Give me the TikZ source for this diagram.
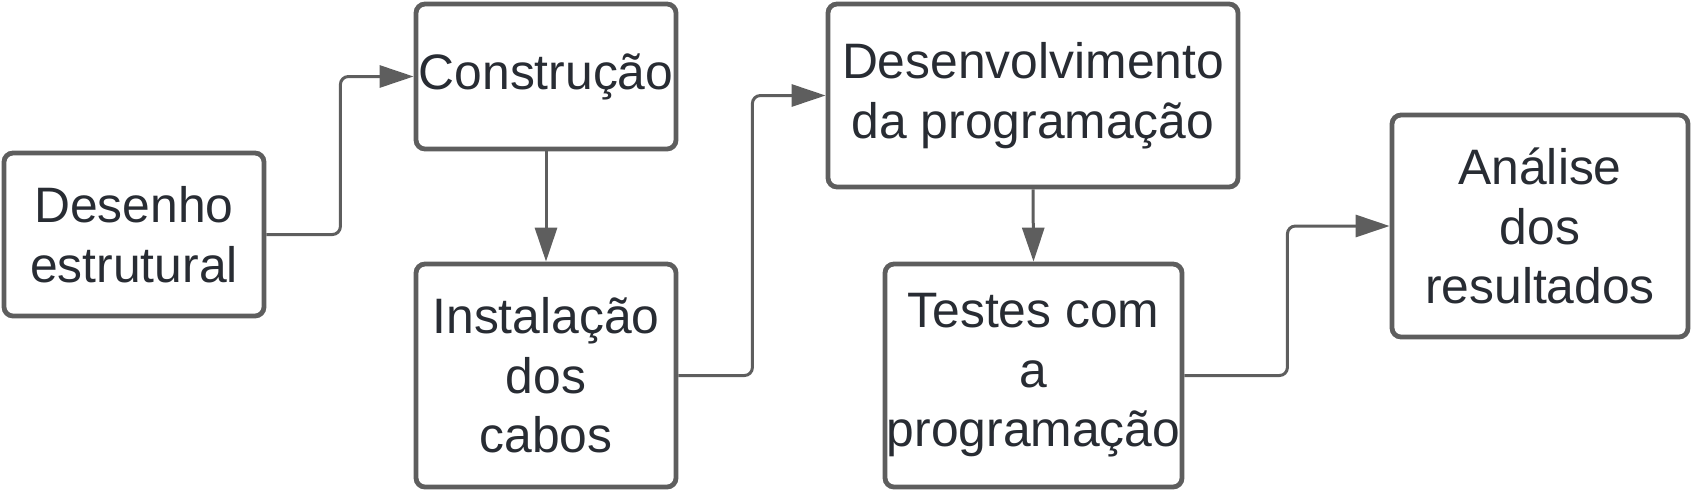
\documentclass[tikz,border=0pt]{standalone}
\usepackage{fontspec}
\setmainfont{Liberation Sans}
\usepackage{tikz}
\usetikzlibrary{arrows.meta}
\definecolor{linegray}{HTML}{5E5E5E}
\definecolor{textdark}{HTML}{282C33}
\tikzstyle{stepbox}=[draw=linegray,line width=4.8pt,rounded corners=9pt,fill=white,align=center,inner sep=0pt,text=textdark,font=\fontsize{49.8}{59.5}\selectfont]
\tikzstyle{flow}=[draw=linegray,line width=3pt,rounded corners=8pt,-{Triangle[length=34pt,width=22pt]}]

\begin{document}
\begin{tikzpicture}[x=1pt,y=-1pt]
        \useasboundingbox (0,0) rectangle (1693,493);
        \node[stepbox,minimum width=260pt,minimum height=163pt] (desenho) at (134,234.5) {Desenho\\estrutural};
        \node[stepbox,minimum width=260pt,minimum height=145pt] (construcao) at (546,76.5) {Construção};
        \node[stepbox,minimum width=260pt,minimum height=223pt] (instalacao) at (546,375.5) {Instalação\\dos\\cabos};
        \node[stepbox,minimum width=410pt,minimum height=183pt] (desenvolvimento) at (1033,95.5) {Desenvolvimento\\da programação};
        \node[stepbox,minimum width=297pt,minimum height=223pt] (testes) at (1033.5,375.5) {Testes com\\a\\programação};
        \node[stepbox,minimum width=296pt,minimum height=222pt] (analise) at (1540,226) {Análise\\dos\\resultados};
        \draw[flow] (desenho.east) -- ++(74,0) |- (construcao.west);
        \draw[flow] (construcao.south) -- (instalacao.north);
        \draw[flow] (instalacao.east) -- ++(74,0) |- (desenvolvimento.west);
        \draw[flow] (desenvolvimento.south) -- (testes.north);
        \draw[flow] (testes.east) -- ++(103,0) |- (analise.west);
\end{tikzpicture}
\end{document}
